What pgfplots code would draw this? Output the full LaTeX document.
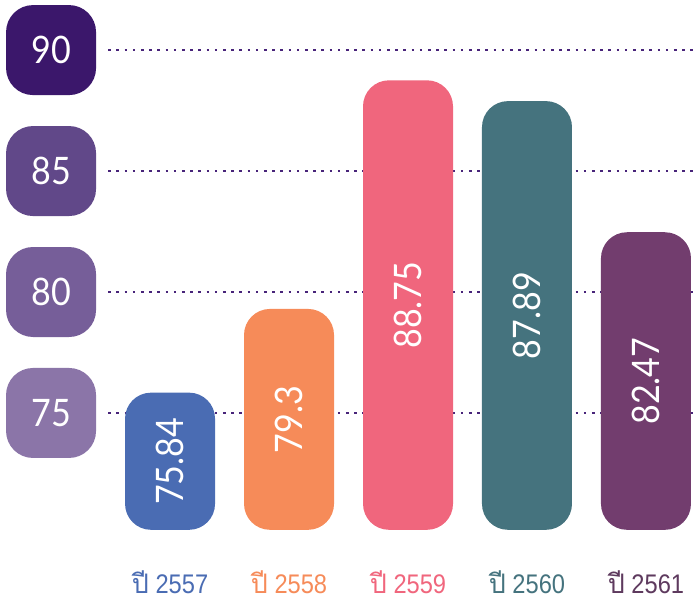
\documentclass[border=0pt]{standalone}
\usepackage{pgfplots}
\pgfplotsset{compat=1.18}
\usepackage{fontspec}
\setmainfont{Liberation Sans}
\newfontfamily\thaifont[Script=Thai]{Loma}
\newfontfamily\numfont[FakeStretch=0.9]{Lato}
\newfontfamily\labfont[FakeStretch=0.88]{Liberation Sans}
\definecolor{b1}{RGB}{74,108,179}
\definecolor{b2}{RGB}{246,139,89}
\definecolor{b3}{RGB}{240,102,125}
\definecolor{b4}{RGB}{69,115,126}
\definecolor{b5}{RGB}{114,61,110}
\definecolor{t5}{RGB}{94,58,94}
\definecolor{y90}{RGB}{59,23,107}
\definecolor{y85}{RGB}{97,72,137}
\definecolor{y80}{RGB}{118,94,153}
\definecolor{y75}{RGB}{139,117,168}
\definecolor{dots}{RGB}{72,36,122}
\pgfplotsset{
  mybar/.style={ybar, bar width=90bp, bar shift=0pt, fill=#1, draw=none,
    rounded corners=26bp, nodes near coords, point meta=explicit symbolic,
    visualization depends on=rawy \as \rawy,
    every node near coord/.append style={font=\numfont\fontsize{38}{38}\selectfont,
      text=white, anchor=center, inner sep=0pt, yshift={-(\rawy-70.17)*12.1bp}, rotate=90}},
  ybox/.style={draw=none, mark=none, nodes near coords, point meta=explicit symbolic,
    every node near coord/.append style={font=\numfont\fontsize{38}{38}\selectfont,
      text=white, fill=#1, anchor=center, rounded corners=27bp,
      minimum width=90bp, minimum height=90bp, inner sep=0pt}},
  grid/.style={draw=dots, line width=2.6bp, line cap=butt, dash pattern=on 2.6bp off 5.6bp, mark=none}
}
\begin{document}
\begin{tikzpicture}
\begin{axis}[
  width=695bp, height=607bp, scale only axis,
  xmin=-1.429, xmax=4.412, ymin=66.98, ymax=92.07,
  y coord trafo/.code={\pgfmathparse{#1-70.17}},
  y coord inv trafo/.code={\pgfmathparse{#1+70.17}},
  axis line style={draw=none}, ytick=\empty, major tick length=0pt,
  xtick={0,1,2,3,4},
  xticklabels={
    \textcolor{b1}{{\thaifont ปี} 2557},
    \textcolor{b2}{{\thaifont ปี} 2558},
    \textcolor{b3}{{\thaifont ปี} 2559},
    \textcolor{b4}{{\thaifont ปี} 2560},
    \textcolor{t5}{{\thaifont ปี} 2561}},
  xticklabel style={anchor=base, yshift=14bp, font=\labfont\fontsize{27}{27}\selectfont},
  clip=false,
]
\addplot[grid] coordinates {(-0.52,75) (4.412,75)};
\addplot[grid] coordinates {(-0.52,80) (4.412,80)};
\addplot[grid] coordinates {(-0.52,85) (4.412,85)};
\addplot[grid] coordinates {(-0.52,90) (4.412,90)};
\addplot[ybox=y90] coordinates {(-1,90) [90]};
\addplot[ybox=y85] coordinates {(-1,85) [85]};
\addplot[ybox=y80] coordinates {(-1,80) [80]};
\addplot[ybox=y75] coordinates {(-1,75) [75]};
\addplot[mybar=b1] coordinates {(0,75.84) [75.84]};
\addplot[mybar=b2] coordinates {(1,79.3) [79.3]};
\addplot[mybar=b3] coordinates {(2,88.75) [88.75]};
\addplot[mybar=b4] coordinates {(3,87.89) [87.89]};
\addplot[mybar=b5] coordinates {(4,82.47) [82.47]};
\coordinate (bl) at (rel axis cs:0,0);
\coordinate (tr) at (rel axis cs:1,1);
\end{axis}
\pgfresetboundingbox
\path[use as bounding box] (bl) rectangle (tr);
\end{tikzpicture}
\end{document}
